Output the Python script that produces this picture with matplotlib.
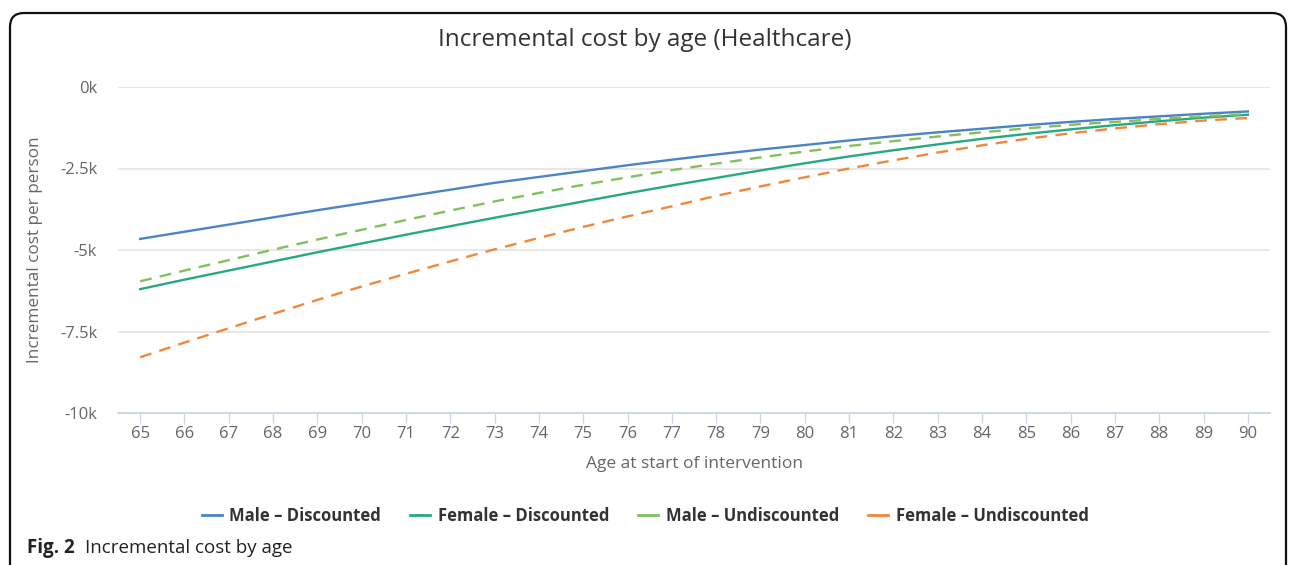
import numpy as np
import matplotlib.pyplot as plt
from matplotlib.patches import FancyBboxPatch

ages = list(range(65, 91))

male_discounted = [
    -4.66, -4.44, -4.22, -4.00, -3.78, -3.57, -3.36, -3.15, -2.94, -2.76,
    -2.58, -2.40, -2.23, -2.07, -1.92, -1.78, -1.64, -1.51, -1.39, -1.28,
    -1.17, -1.07, -0.98, -0.90, -0.82, -0.75,
]
female_discounted = [
    -6.20, -5.91, -5.63, -5.35, -5.07, -4.80, -4.53, -4.27, -4.01, -3.76,
    -3.51, -3.26, -3.02, -2.79, -2.56, -2.34, -2.13, -1.94, -1.76, -1.59,
    -1.44, -1.30, -1.17, -1.05, -0.94, -0.85,
]
male_undiscounted = [
    -5.96, -5.63, -5.31, -4.99, -4.68, -4.38, -4.08, -3.79, -3.51, -3.25,
    -3.00, -2.77, -2.55, -2.35, -2.16, -1.98, -1.81, -1.66, -1.52, -1.39,
    -1.27, -1.16, -1.07, -0.98, -0.90, -0.83,
]
female_undiscounted = [
    -8.29, -7.84, -7.40, -6.96, -6.53, -6.12, -5.73, -5.35, -4.98, -4.63,
    -4.29, -3.97, -3.66, -3.34, -3.05, -2.77, -2.50, -2.25, -2.01, -1.79,
    -1.59, -1.42, -1.27, -1.14, -1.03, -0.95,
]

series_names = [
    "Male – Discounted",
    "Female – Discounted",
    "Male – Undiscounted",
    "Female – Undiscounted",
]

y_ticks = [0, -2500, -5000, -7500, -10000]
y_tick_labels = ["0k", "-2.5k", "-5k", "-7.5k", "-10k"]

FONT = ["Open Sans", "DejaVu Sans"]
GRAY = "#666666"


def main():
    plt.rcParams["font.family"] = FONT

    fig = plt.figure(figsize=(12.92, 5.65), dpi=100)

    # rounded frame around the whole panel (pixel coords)
    frame = FancyBboxPatch(
        (10, -30),
        1276,
        565 - 13 + 30,
        boxstyle="round,pad=0,rounding_size=14",
        transform=None,
        facecolor="none",
        edgecolor="#111111",
        linewidth=1.6,
        zorder=5,
        clip_on=False,
    )
    fig.patches.append(frame)

    ax = fig.add_axes([118 / 1292, 1 - 413 / 565, 1152 / 1292, 326 / 565])
    ax.set_facecolor("none")

    styles = [
        dict(color="#4a84c4", linestyle="-"),
        dict(color="#26a884", linestyle="-"),
        dict(color="#82c05c", linestyle=(0, (5, 3.5))),
        dict(color="#f0883c", linestyle=(0, (5, 3.5))),
    ]
    all_values = [
        male_discounted,
        female_discounted,
        male_undiscounted,
        female_undiscounted,
    ]

    for name, values, style in zip(series_names, all_values, styles):
        ax.plot(
            ages,
            np.array(values) * 1000,
            label=name,
            linewidth=1.7,
            **style
        )

    ax.set_xlim(64.5, 90.5)
    ax.set_ylim(-10000, 0)

    ax.set_yticks(y_ticks)
    ax.set_yticklabels(y_tick_labels)
    ax.set_xticks(ages)
    ax.set_xticklabels([str(a) for a in ages])

    ax.grid(axis="y", color="#e3e3e3", linewidth=1.2)
    ax.set_axisbelow(True)

    for side in ["top", "right", "left"]:
        ax.spines[side].set_visible(False)
    ax.spines["bottom"].set_color("#ccd6eb")
    ax.spines["bottom"].set_linewidth(1.3)

    ax.tick_params(axis="y", length=0, pad=15, labelsize=12, labelcolor=GRAY)
    ax.tick_params(
        axis="x",
        length=7,
        width=1.0,
        color="#ccd6eb",
        pad=2,
        labelsize=12,
        labelcolor=GRAY,
    )

    ax.set_xlabel(
        "Age at start of intervention",
        fontsize=12.5,
        color=GRAY,
    )
    ax.xaxis.set_label_coords(0.5, -0.132)
    ax.set_ylabel(
        "Incremental cost per person",
        fontsize=12.3,
        color=GRAY,
    )
    ax.yaxis.set_label_coords(-0.065, 0.5)

    fig.text(
        645 / 1292,
        1 - 40 / 565,
        "Incremental cost by age (Healthcare)",
        ha="center",
        va="center",
        fontsize=17.5,
        color="#333333",
    )

    legend = fig.legend(
        loc="center",
        bbox_to_anchor=(645 / 1292, 1 - 516 / 565),
        ncol=4,
        frameon=False,
        handlelength=1.2,
        handletextpad=0.45,
        columnspacing=1.75,
        prop={"weight": "bold", "size": 12},
    )
    for text in legend.get_texts():
        text.set_color("#333333")
    for line in legend.get_lines():
        line.set_linestyle("-")
        line.set_linewidth(2)

    fig.text(
        27 / 1292,
        1 - 548 / 565,
        "Fig. 2",
        ha="left",
        va="center",
        fontsize=13.5,
        fontweight="bold",
        color="#222222",
    )
    fig.text(
        85 / 1292,
        1 - 548 / 565,
        "Incremental cost by age",
        ha="left",
        va="center",
        fontsize=13.5,
        color="#222222",
    )

    fig.savefig("out.png", dpi=100)
    plt.close(fig)


if __name__ == "__main__":
    main()
